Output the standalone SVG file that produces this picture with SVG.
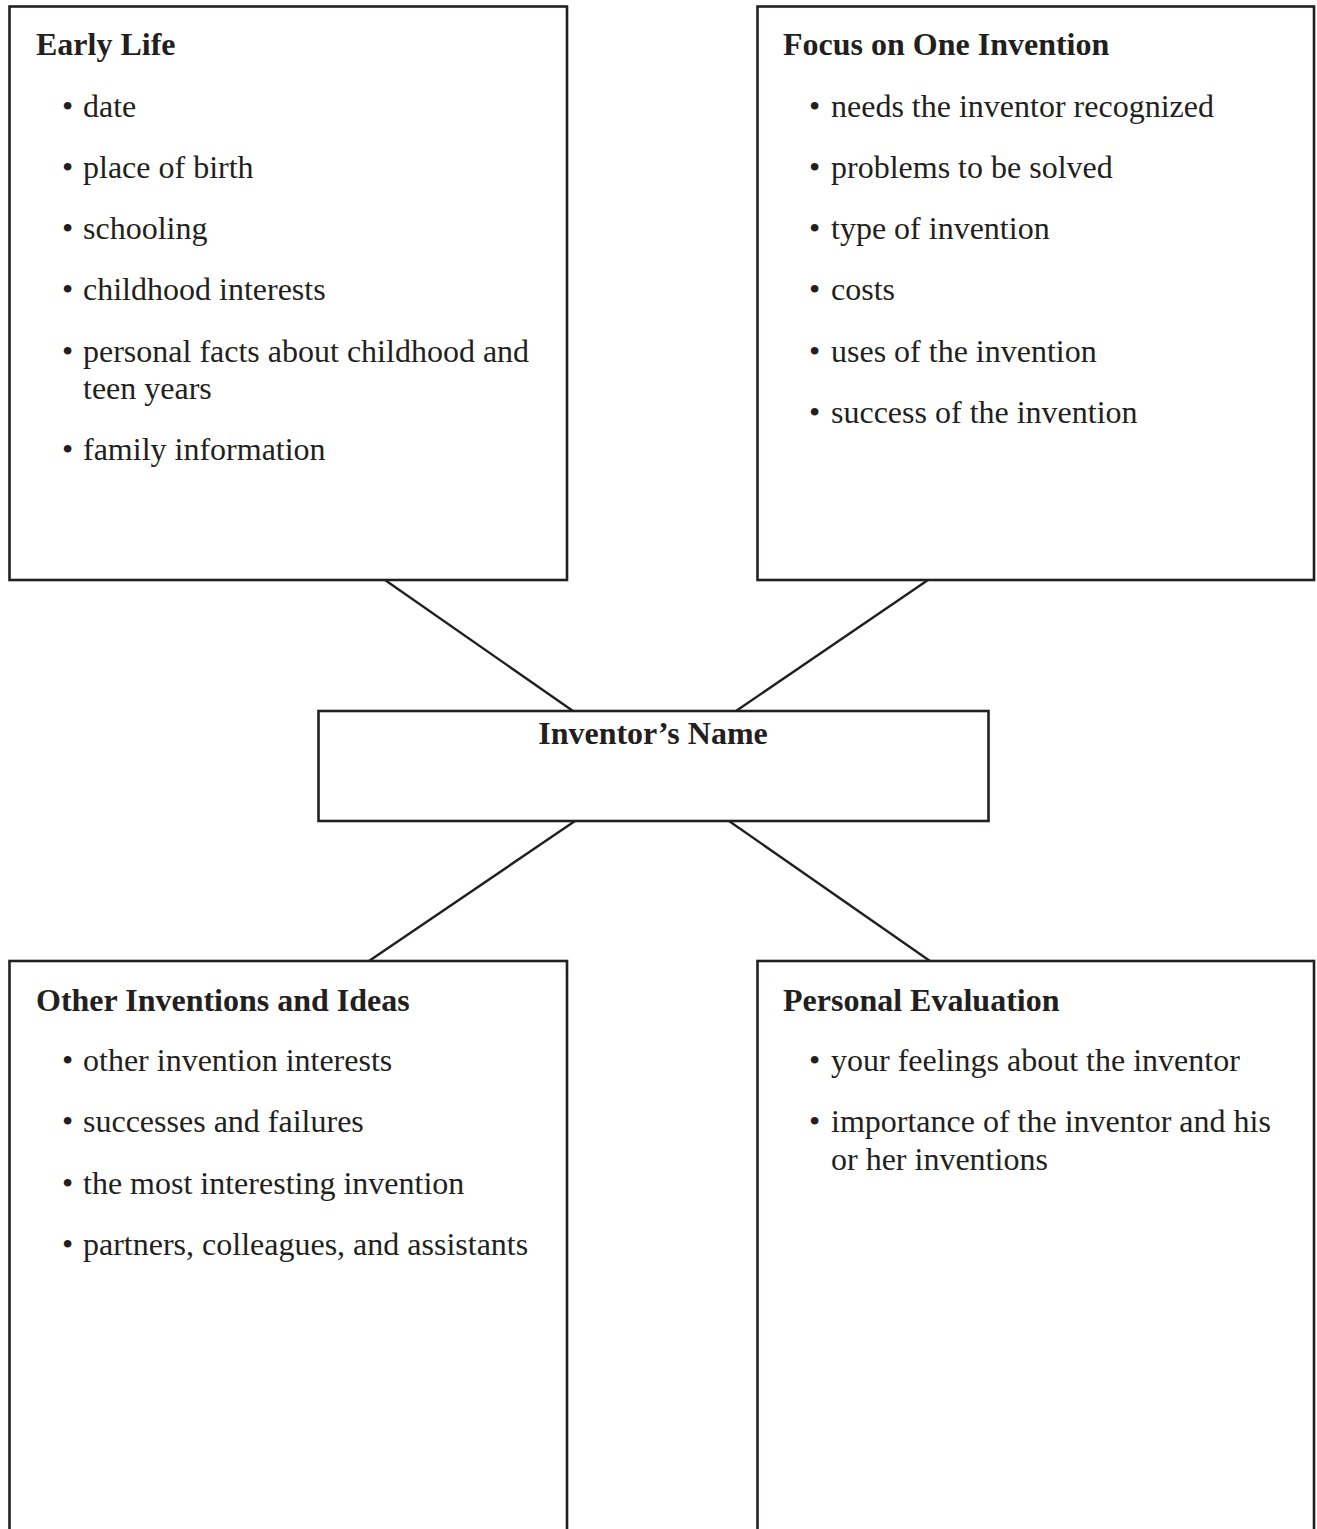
<svg xmlns="http://www.w3.org/2000/svg" width="1317" height="1529" viewBox="0 0 1317 1529">
<style>
.box{fill:#ffffff;stroke:#231f20;stroke-width:2.6}
.conn line{stroke:#231f20;stroke-width:2.4}
.t{font-family:"Liberation Serif","Times New Roman",serif;font-size:32px;font-weight:bold;fill:#231f20}
.i{font-family:"Liberation Serif","Times New Roman",serif;font-size:32px;fill:#231f20}
</style>
<rect x="0" y="0" width="1317" height="1529" fill="#ffffff"/>
<g id="connectors" class="conn">
<line x1="385" y1="580" x2="573" y2="711"/>
<line x1="928" y1="580" x2="736" y2="711"/>
<line x1="575" y1="821" x2="369" y2="961"/>
<line x1="729" y1="821" x2="930" y2="961"/>
</g>
<g id="early-life">
<rect class="box" x="9.5" y="6.5" width="557.5" height="573.5"/>
<text class="t" x="36" y="55">Early Life</text>
<g class="i">
<text x="62" y="117">•</text><text x="83" y="117">date</text>
<text x="62" y="178">•</text><text x="83" y="178">place of birth</text>
<text x="62" y="239">•</text><text x="83" y="239">schooling</text>
<text x="62" y="300">•</text><text x="83" y="300">childhood interests</text>
<text x="62" y="362">•</text><text x="83" y="362">personal facts about childhood and</text>
<text x="83" y="399">teen years</text>
<text x="62" y="460">•</text><text x="83" y="460">family information</text>
</g>
</g>
<g id="focus-invention">
<rect class="box" x="757.5" y="6.5" width="556.5" height="573.5"/>
<text class="t" x="783" y="55">Focus on One Invention</text>
<g class="i">
<text x="809" y="117">•</text><text x="831" y="117">needs the inventor recognized</text>
<text x="809" y="178">•</text><text x="831" y="178">problems to be solved</text>
<text x="809" y="239">•</text><text x="831" y="239">type of invention</text>
<text x="809" y="300">•</text><text x="831" y="300">costs</text>
<text x="809" y="362">•</text><text x="831" y="362">uses of the invention</text>
<text x="809" y="423">•</text><text x="831" y="423">success of the invention</text>
</g>
</g>
<g id="inventor-name">
<rect class="box" x="318.5" y="711" width="670" height="110"/>
<text class="t" x="653" y="744" text-anchor="middle">Inventor’s Name</text>
</g>
<g id="other-inventions">
<rect class="box" x="9.5" y="961" width="557.5" height="580"/>
<text class="t" x="36" y="1011">Other Inventions and Ideas</text>
<g class="i">
<text x="62" y="1071">•</text><text x="83" y="1071">other invention interests</text>
<text x="62" y="1132">•</text><text x="83" y="1132">successes and failures</text>
<text x="62" y="1194">•</text><text x="83" y="1194">the most interesting invention</text>
<text x="62" y="1255">•</text><text x="83" y="1255">partners, colleagues, and assistants</text>
</g>
</g>
<g id="personal-evaluation">
<rect class="box" x="757.5" y="961" width="556.5" height="580"/>
<text class="t" x="783" y="1011">Personal Evaluation</text>
<g class="i">
<text x="809" y="1071">•</text><text x="831" y="1071">your feelings about the inventor</text>
<text x="809" y="1132">•</text><text x="831" y="1132">importance of the inventor and his</text>
<text x="831" y="1170">or her inventions</text>
</g>
</g>
</svg>
